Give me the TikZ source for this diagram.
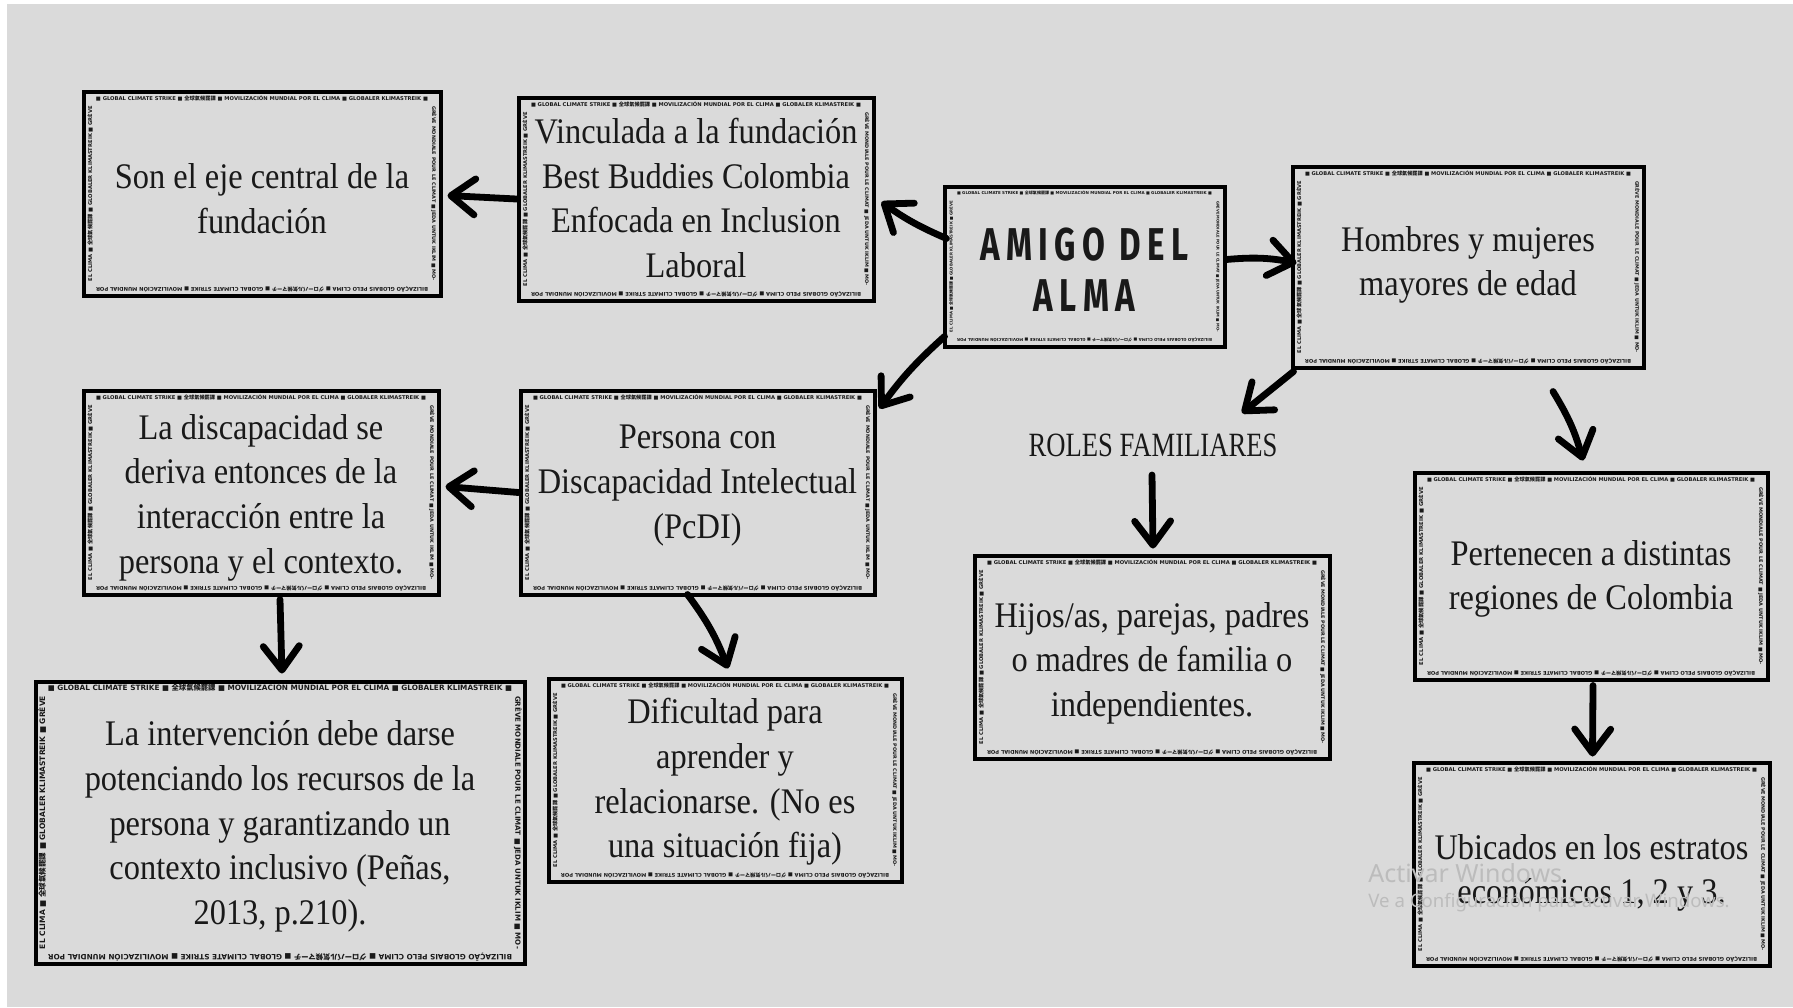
\documentclass[tikz,border=0pt]{standalone}
\usepackage{fontspec}
\usepackage{graphicx}
\usetikzlibrary{arrows.meta,calc}
\newfontfamily\bxf{Liberation Serif}[FakeStretch=0.9]
\newfontfamily\titf{Fira Sans}[FakeStretch=0.72,LetterSpace=14]
\newfontfamily\stripf{DejaVu Sans}
\newfontfamily\cjkf{Noto Sans CJK JP}
\newfontfamily\wmf{Noto Sans}
\definecolor{bg}{RGB}{218,218,218}
\definecolor{ink}{RGB}{25,25,25}
\definecolor{wm}{RGB}{188,188,188}

\newcommand\stripT{■ GLOBAL CLIMATE STRIKE ■ {\cjkf 全球氣候罷課} ■ MOVILIZACIÓN MUNDIAL POR EL CLIMA ■ GLOBALER KLIMASTREIK ■}
\newcommand\stripR{GRÈVE MONDIALE POUR LE CLIMAT ■ JEDA UNTUK IKLIM ■ MO-}
\newcommand\stripB{BILIZAÇÃO GLOBAIS PELO CLIMA ■ {\cjkf グローバル気候マーチ} ■ GLOBAL CLIMATE STRIKE ■ MOVILIZACIÓN MUNDIAL POR}
\newcommand\stripL{EL CLIMA ■ {\cjkf 全球氣候罷課} ■ GLOBALER KLIMASTREIK ■ GRÈVE}

\tikzset{
  frbox/.style={draw=black, line width=1.5pt, fill=bg, inner sep=0pt},
  boxtext/.style={text=ink, align=center, inner sep=0pt,
    font=\bxf\fontsize{18}{22.3}\selectfont},
  strip/.style={inner sep=0pt, text=ink, font=\stripf\bfseries},
  arr/.style={line width=3.4pt, line cap=round, draw=black,
    -{Straight Barb[length=12pt,width=18pt,round]}},
  wmtext/.style={text=wm, anchor=west, inner sep=0pt},
}

% [text style], name, cx, cy, w, h, text y offset, text
\newcommand\fbx[8][]{%
  \node[frbox, minimum width=#5*0.5pt, minimum height=#6*0.5pt] (#2) at (#3,#4) {};
  \draw[line width=0.45pt] ($(#2.north west)+(3.5,3.5)$) rectangle ($(#2.south east)+(-3.5,-3.5)$);
  \pgfmathsetlengthmacro\sw{(#5-26)*0.5}%
  \pgfmathsetlengthmacro\sh{(#6-30)*0.5}%
  \node[strip] at ($(#2.north)+(0,8.5)$) {\resizebox{\sw}{!}{\stripT}};
  \node[strip,rotate=-90] at ($(#2.east)+(-8.5,0)$) {\resizebox{\sh}{!}{\stripR}};
  \node[strip,rotate=180] at ($(#2.south)+(0,-8.5)$) {\resizebox{\sw}{!}{\stripB}};
  \node[strip,rotate=90] at ($(#2.west)+(8.5,0)$) {\resizebox{\sh}{!}{\stripL}};
  \node[boxtext,#1] (#2t) at ($(#2.center)+(0,#7)$) {#8};
}

\begin{document}
\begin{tikzpicture}[x=0.5pt,y=-0.5pt]
\useasboundingbox (0,0) rectangle (1793,1007);
\fill[white] (0,0) rectangle (1793,1007);
\fill[bg] (7,4) rectangle (1793,1007);

\fbx{b1}{262}{193.5}{358}{205}{5}{Son el eje central de la\\fundación}
\fbx{b2}{696}{199}{356}{204}{-1}{Vinculada a la fundación\\Best Buddies Colombia\\Enfocada en Inclusion\\Laboral}
\fbx[font={\titf\bfseries\fontsize{23}{25.5}\selectfont}]{b3}{1084.5}{266.5}{281}{161}{3}{AMIGO DEL\\ALMA}
\fbx{b4}{1468}{267}{352}{202}{-2}{Hombres y mujeres\\mayores de edad}
\fbx{b5}{261}{492.5}{356}{205}{5}{La discapacidad se\\deriva entonces de la\\interacción entre la\\persona y el contexto.}
\fbx{b6}{697.5}{492.5}{355}{205}{-7}{Persona con\\Discapacidad Intelectual\\(PcDI)}
\fbx{b8}{1152}{657}{356}{204}{6}{Hijos/as, parejas, padres\\o madres de familia o\\independientes.}
\fbx{b9}{1591}{576}{354}{208}{3}{Pertenecen a distintas\\regiones de Colombia}
\fbx{b10}{1591.5}{864}{357}{204}{9}{Ubicados en los estratos\\económicos 1, 2 y 3.}
\fbx{b11}{280}{822.5}{490}{283}{4}{La intervención debe darse\\potenciando los recursos de la\\persona y garantizando un\\contexto inclusivo (Peñas,\\2013, p.210).}
\fbx{b12}{725}{780}{354}{204}{2}{Dificultad para\\aprender y\\relacionarse. (No es\\una situación fija)}

\node[text=ink, inner sep=0pt, font=\bxf\fontsize{17}{20}\selectfont] (roles) at (1153,445) {\scalebox{0.87}[1]{ROLES FAMILIARES}};

\coordinate (s7) at ($(b4.south)+(85,22)$);

% connectors
\draw[arr] (b2.west) -- ($(b1.east)+(5,2)$);
\draw[arr] ($(b3.west)+(4,-28)$) to[bend left=6] ($(b2.east)+(6,3)$);
\draw[arr] ($(b3.south west)+(2,-12)$) to[bend right=6] ($(b6.north east)+(3,20)$);
\draw[arr] ($(b3.east)+(0,-7)$) to[bend left=8] ($(b4.west)+(6,-4)$);
\draw[arr] ($(b4.south west)+(3,2)$) -- ($(roles.center)+(89,-32)$);
\draw[arr] ($(roles.center)+(-1,30)$) -- ($(b8.north)+(1,-5)$);
\draw[arr] (s7) to[bend left=8] ($(b9.north)+(-8,-10)$);
\draw[arr] ($(b9.south)+(2,4)$) -- ($(b10.north)+(1,-4)$);
\draw[arr] ($(b5.south)+(19,3)$) -- ($(b11.north)+(2,-6)$);
\draw[arr] ($(b6.south)+(-10,-2)$) to[bend left=8] ($(b12.north)+(3,-8)$);
\draw[arr] (b6.west) -- ($(b5.east)+(5,-6)$);

% watermark
\node[wmtext, font=\wmf\fontsize{12.5}{14}\selectfont] (wm1) at (1368,873) {Activar Windows};
\node[wmtext, font=\wmf\fontsize{9.3}{10.5}\selectfont] (wm2) at (1368,903) {Ve a Configuración para activar Windows.};
\end{tikzpicture}
\end{document}
